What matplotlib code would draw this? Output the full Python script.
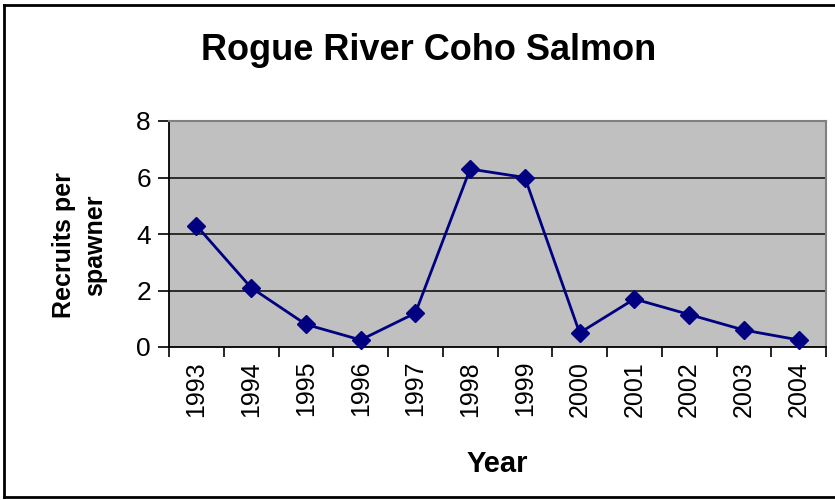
import matplotlib
matplotlib.use("Agg")
import matplotlib.pyplot as plt
from matplotlib.lines import Line2D

years = ["1993", "1994", "1995", "1996", "1997", "1998", "1999", "2000", "2001", "2002", "2003", "2004"]
recruits = [4.3, 2.1, 0.8, 0.25, 1.2, 6.3, 6.0, 0.5, 1.7, 1.15, 0.6, 0.25]
yticks = [0, 2, 4, 6, 8]

plt.rcParams['font.family'] = ['Liberation Sans', 'DejaVu Sans']

fig = plt.figure(figsize=(8.35, 5), dpi=100)
ax = fig.add_axes([169/835, 1-347/500, (826-169)/835, (347-121)/500])
ax.set_facecolor('#C0C0C0')

x = list(range(len(years)))
ax.plot(x, recruits, color='#000080', lw=2, marker='D', markersize=9,
        markerfacecolor='#000080', markeredgecolor='#000080', zorder=3, clip_on=False)

ax.set_xlim(-0.5, len(years) - 0.5)
ax.set_ylim(0, 8)
ax.set_yticks(yticks)
ax.set_yticklabels([str(v) for v in yticks], fontsize=19)
for v in yticks[1:-1]:
    ax.axhline(v, color='#202020', lw=1.3, zorder=1)

ax.set_xticks(x)
ax.set_xticklabels(years, rotation=90, fontsize=18)
ax.set_xticks([i - 0.5 for i in range(len(years) + 1)], minor=True)
ax.tick_params(axis='x', which='major', length=0, pad=10)
ax.tick_params(axis='x', which='minor', length=7, width=1.2, direction='out', color='black')
ax.tick_params(axis='y', length=8, width=1.2, direction='out', pad=5)

for s in ['left', 'bottom']:
    ax.spines[s].set_color('black')
    ax.spines[s].set_linewidth(1.3)
for s in ['top', 'right']:
    ax.spines[s].set_color('#808080')
    ax.spines[s].set_linewidth(1.5)

fig.text(0.513, 0.90, "Rogue River Coho Salmon", ha='center', va='center',
         fontsize=26, fontweight='bold')
fig.text(0.095, 0.51, "Recruits per\nspawner", ha='center', va='center',
         rotation=90, fontsize=18, fontweight='bold', linespacing=1.4)
fig.text(0.596, 0.072, "Year", ha='center', va='center', fontsize=21, fontweight='bold')

# figure border
fig.add_artist(Line2D([0.005, 0.005], [0.006, 0.99], transform=fig.transFigure, color='black', lw=2))
fig.add_artist(Line2D([0.005, 1.0], [0.99, 0.99], transform=fig.transFigure, color='black', lw=2))
fig.add_artist(Line2D([0.005, 1.0], [0.006, 0.006], transform=fig.transFigure, color='black', lw=2))

fig.savefig("out.png", dpi=100)
